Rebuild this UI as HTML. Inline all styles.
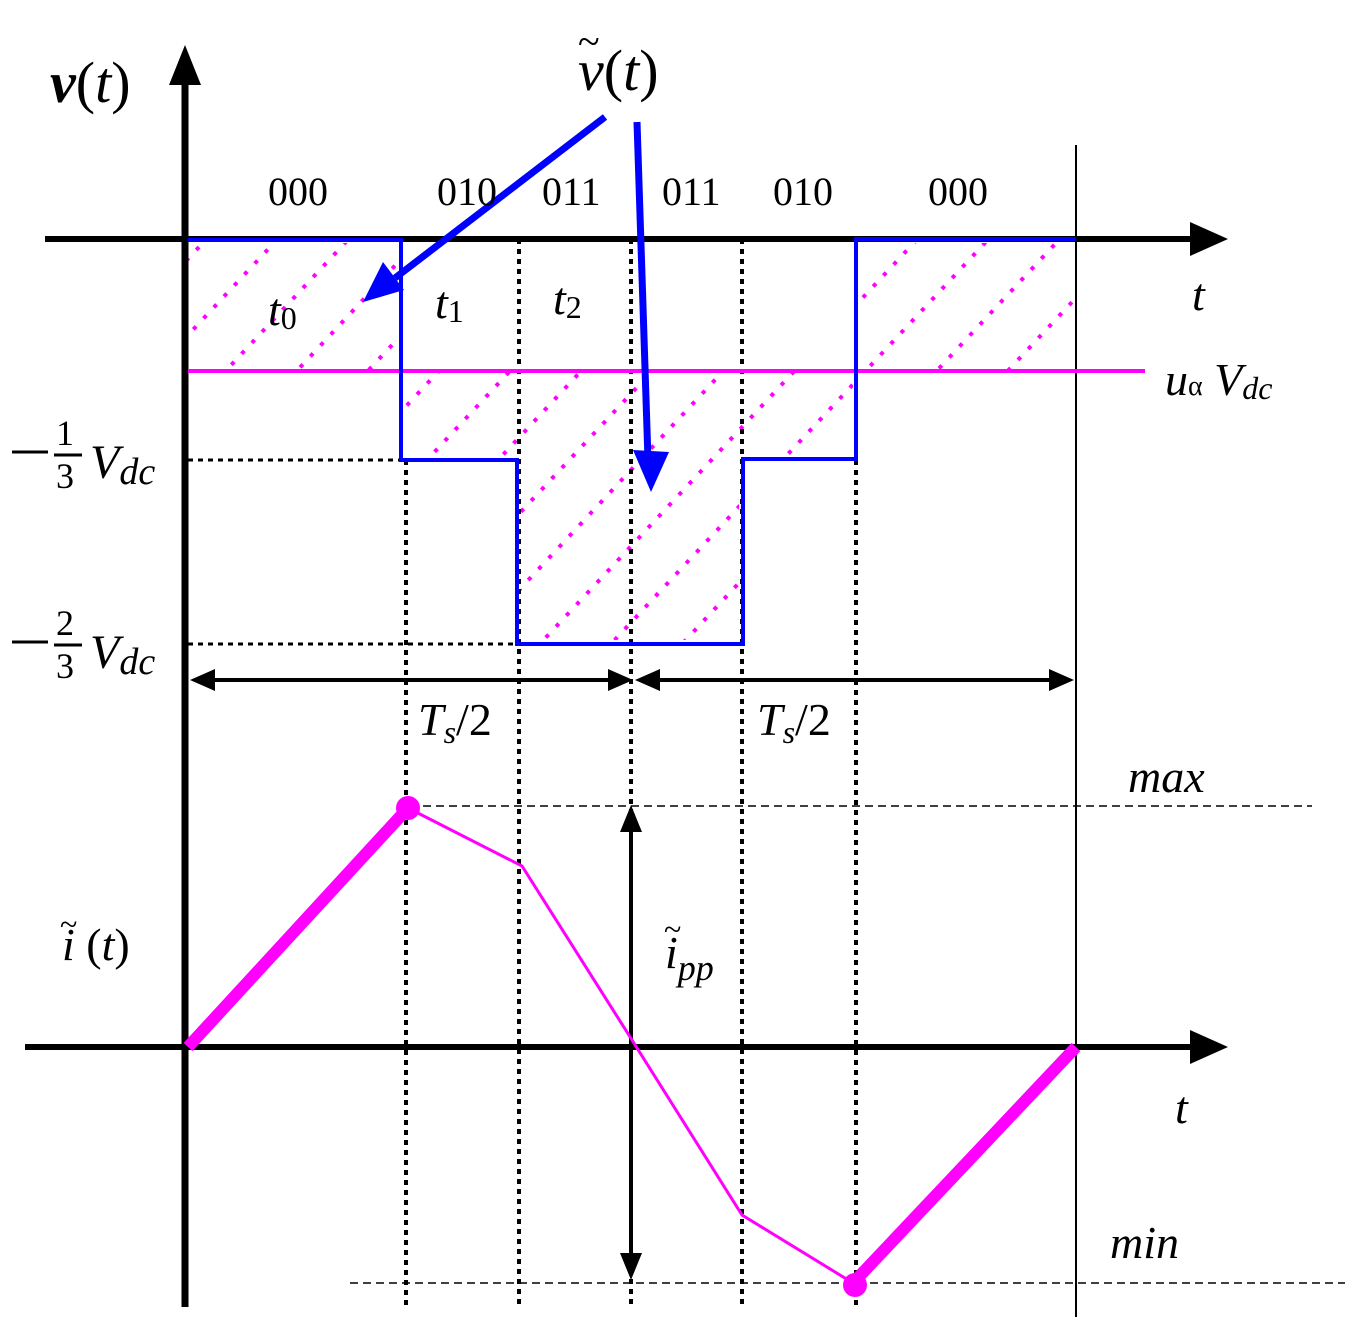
<!DOCTYPE html>
<html><head><style>body{margin:0;background:#fff}svg{display:block}text{font-family:"Liberation Serif",serif}</style></head><body>
<svg width="1362" height="1335" viewBox="0 0 1362 1335" xmlns="http://www.w3.org/2000/svg">
<defs>
<pattern id="h" patternUnits="userSpaceOnUse" width="52" height="60" patternTransform="rotate(43)">
<line x1="2" y1="0" x2="2" y2="60" stroke="#f0f" stroke-width="4" stroke-dasharray="4 11"/>
</pattern>
</defs>
<path d="M188,243 H398 V369 H188Z M860,243 H1076 V369 H860Z M405,373 H853 V456 H739 V640 H521 V456 H405Z" fill="url(#h)"/>
<line x1="185" y1="80" x2="185" y2="1307" stroke="#000" stroke-width="7"/>
<path d="M185,45 L169,85 L201,85Z"/>
<line x1="45" y1="239" x2="1195" y2="239" stroke="#000" stroke-width="6"/>
<path d="M1228,239 L1190,222 L1190,256Z"/>
<line x1="25" y1="1047" x2="1195" y2="1047" stroke="#000" stroke-width="6"/>
<path d="M1228,1047 L1190,1030 L1190,1064Z"/>
<line x1="1076" y1="145" x2="1076" y2="1317" stroke="#000" stroke-width="2"/>
<g stroke="#000" stroke-width="4" stroke-dasharray="5 5" fill="none">
<line x1="406" y1="460" x2="406" y2="1307"/>
<line x1="519" y1="239" x2="519" y2="1307"/>
<line x1="631" y1="239" x2="631" y2="1307"/>
<line x1="742" y1="239" x2="742" y2="1307"/>
<line x1="856" y1="460" x2="856" y2="1307"/>
<line x1="188" y1="460" x2="401" y2="460" stroke-width="3"/>
<line x1="188" y1="644" x2="517" y2="644" stroke-width="3"/>
</g>
<line x1="188" y1="371" x2="1145" y2="371" stroke="#f0f" stroke-width="4"/>
<path d="M188,240 H401 V460 H517 V644 H743 V459 H856 V239 H1076" fill="none" stroke="#00f" stroke-width="4"/>
<g stroke="#000" stroke-width="4">
<line x1="205" y1="680" x2="615" y2="680"/><line x1="650" y1="680" x2="1057" y2="680"/>
<line x1="631" y1="825" x2="631" y2="1258"/>
</g>
<path d="M190,680 L215,669 L215,691Z M633,680 L608,669 L608,691Z M635,680 L660,669 L660,691Z M1074,680 L1049,669 L1049,691Z M631,805 L620,832 L642,832Z M631,1280 L620,1253 L642,1253Z"/>
<g stroke="#000" stroke-width="1.5" stroke-dasharray="8 5">
<line x1="410" y1="806" x2="1312" y2="806"/><line x1="350" y1="1283" x2="1345" y2="1283"/>
</g>
<path d="M408,808 L522,866 L632,1040 L742,1215 L853,1283" fill="none" stroke="#f0f" stroke-width="3"/>
<line x1="188" y1="1047" x2="408" y2="808" stroke="#f0f" stroke-width="12"/>
<line x1="853" y1="1283" x2="1076" y2="1047" stroke="#f0f" stroke-width="12"/>
<circle cx="408" cy="808" r="12" fill="#f0f"/><circle cx="855" cy="1285" r="12" fill="#f0f"/>
<g stroke="#00f" stroke-width="7">
<line x1="605" y1="117" x2="395" y2="278"/>
<line x1="637" y1="122" x2="648" y2="460"/>
</g>
<path d="M363,302 L383,262 L404,290Z M651,492 L633,450 L669,452Z" fill="#00f"/>
<g font-size="40">
<text x="268" y="205">000</text><text x="437" y="205">010</text><text x="542" y="205">011</text>
<text x="662" y="205">011</text><text x="773" y="205">010</text><text x="928" y="205">000</text>
</g>
<g font-size="46" font-style="italic">
<text x="268" y="325">t<tspan font-style="normal" font-size="32" dy="4">0</tspan></text>
<text x="435" y="318">t<tspan font-style="normal" font-size="32" dy="4">1</tspan></text>
<text x="553" y="314">t<tspan font-style="normal" font-size="32" dy="4">2</tspan></text>
<text x="1192" y="310">t</text><text x="1175" y="1123">t</text>
<text x="1165" y="395">u<tspan font-style="normal" font-size="28">α</tspan> V<tspan font-size="32" dy="4">dc</tspan></text>
<text x="418" y="735">T<tspan font-size="32" dy="8">s</tspan><tspan font-style="normal" dy="-8">/2</tspan></text>
<text x="757" y="735">T<tspan font-size="32" dy="8">s</tspan><tspan font-style="normal" dy="-8">/2</tspan></text>
<text x="1128" y="792">max</text><text x="1110" y="1258">min</text>
<text x="62" y="960">i <tspan font-style="normal">(</tspan>t<tspan font-style="normal">)</tspan></text>
<text x="665" y="968">i<tspan font-size="36" dy="12">pp</tspan></text>
</g>
<text x="60" y="935" font-size="32">~</text><text x="664" y="940" font-size="32">~</text>
<text x="50" y="102" font-size="58" font-style="italic" font-weight="bold">v<tspan font-weight="normal" font-style="normal">(</tspan><tspan font-weight="normal">t</tspan><tspan font-weight="normal" font-style="normal">)</tspan></text>
<text x="578" y="90" font-size="58" font-style="italic">v<tspan font-style="normal">(</tspan>t<tspan font-style="normal">)</tspan></text>
<text x="578" y="55" font-size="40">~</text>
<g font-size="48">
<line x1="12" y1="452" x2="48" y2="452" stroke="#000" stroke-width="3"/>
<text x="56" y="445" font-size="36">1</text><line x1="54" y1="455" x2="82" y2="455" stroke="#000" stroke-width="3"/><text x="56" y="488" font-size="36">3</text>
<text x="90" y="478" font-style="italic">V<tspan font-size="38" dy="6">dc</tspan></text>
<line x1="12" y1="642" x2="48" y2="642" stroke="#000" stroke-width="3"/>
<text x="56" y="635" font-size="36">2</text><line x1="54" y1="645" x2="82" y2="645" stroke="#000" stroke-width="3"/><text x="56" y="678" font-size="36">3</text>
<text x="90" y="668" font-style="italic">V<tspan font-size="38" dy="6">dc</tspan></text>
</g>
</svg>
</body></html>
